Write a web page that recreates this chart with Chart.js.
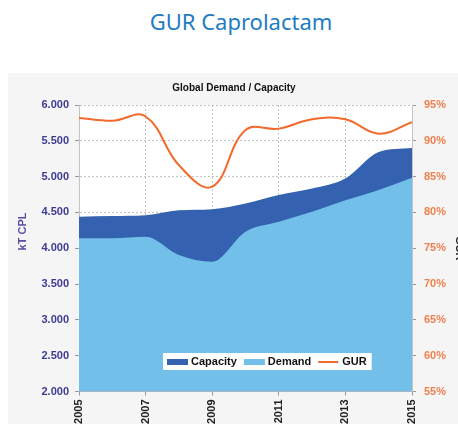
<!DOCTYPE html>
<html>
<head>
<meta charset="utf-8">
<script src="https://cdn.jsdelivr.net/npm/chart.js@4.4.0/dist/chart.umd.min.js"></script>
<style>
  html, body { margin: 0; padding: 0; width: 458px; height: 424px; overflow: hidden; background: #fff; }
  #title { position: absolute; left: 0; top: 6px; width: 482px; text-align: center;
           font-family: "Noto Sans", sans-serif; font-size: 22px; color: #1f7cc2; }
  #panel { position: absolute; left: 8px; top: 73px; width: 460px; height: 360px; background: #f5f5f5; }
  #wrap { position: absolute; left: 0; top: 70px; width: 468px; height: 380px; }
</style>
</head>
<body>
<div id="title">GUR Caprolactam</div>
<div id="panel"></div>
<div id="wrap"><canvas id="chart"></canvas></div>
<script>
const years = [2005, 2006, 2007, 2008, 2009, 2010, 2011, 2012, 2013, 2014, 2015];
const capacity = [4440, 4450, 4460, 4530, 4545, 4625, 4745, 4835, 4975, 5345, 5400];
const demand = [4140, 4140, 4160, 3905, 3810, 4230, 4370, 4510, 4670, 4815, 4985];
const gur = [93.2, 92.8, 93.4, 86.6, 83.6, 91.5, 91.7, 93.0, 93.0, 91.0, 92.6];

const pts = (arr) => years.map((y, i) => ({ x: y, y: arr[i] }));
const tickFont = { family: "Liberation Sans", size: 11, weight: "bold" };

// white plot background
const plotBg = {
  id: "plotBg",
  beforeDraw(chart) {
    const a = chart.chartArea, ctx = chart.ctx;
    ctx.save();
    ctx.fillStyle = "#ffffff";
    ctx.fillRect(a.left, a.top, a.right - a.left, a.bottom - a.top);
    ctx.restore();
  }
};

// legend drawn inside the plot, near the bottom
const innerLegend = {
  id: "innerLegend",
  afterDatasetsDraw(chart) {
    const a = chart.chartArea, ctx = chart.ctx;
    const order = [2, 1, 0];
    const x0 = a.left + 84, y0 = a.bottom - 38.5;
    ctx.save();
    ctx.font = "bold 11px 'Liberation Sans'";
    let w = 6;
    order.forEach(i => { w += 24 + ctx.measureText(chart.data.datasets[i].label).width + 7; });
    ctx.fillStyle = "#ffffff";
    ctx.fillRect(x0, y0, w - 4, 17);
    let x = x0 + 4;
    const cy = y0 + 9;
    order.forEach(i => {
      const ds = chart.data.datasets[i];
      if (!ds.fill) {
        ctx.strokeStyle = ds.borderColor;
        ctx.lineWidth = 2;
        ctx.beginPath(); ctx.moveTo(x, cy); ctx.lineTo(x + 20, cy); ctx.stroke();
      } else {
        ctx.fillStyle = ds.backgroundColor;
        ctx.fillRect(x, cy - 3, 21, 6);
      }
      ctx.fillStyle = "#111";
      ctx.textBaseline = "middle";
      ctx.fillText(ds.label, x + 24, cy);
      x += 24 + ctx.measureText(ds.label).width + 7;
    });
    ctx.restore();
  }
};

new Chart(document.getElementById("chart"), {
  type: "line",
  data: {
    datasets: [
      {
        label: "GUR", data: pts(gur), yAxisID: "y2",
        borderColor: "#f26a2c", borderWidth: 2, fill: false, order: 0,
        pointRadius: 0, tension: 0.4
      },
      {
        label: "Demand", data: pts(demand), yAxisID: "y",
        backgroundColor: "#72bfe9", borderWidth: 0, fill: "origin", order: 1,
        pointRadius: 0, cubicInterpolationMode: "monotone"
      },
      {
        label: "Capacity", data: pts(capacity), yAxisID: "y",
        backgroundColor: "#3462b0", borderWidth: 0, fill: "origin", order: 2,
        pointRadius: 0, cubicInterpolationMode: "monotone"
      }
    ]
  },
  options: {
    responsive: true,
    maintainAspectRatio: false,
    animation: false,
    layout: { padding: 0 },
    plugins: {
      legend: { display: false },
      tooltip: { enabled: false },
      title: {
        display: true, text: "Global Demand / Capacity", color: "#111",
        font: { family: "Liberation Sans", size: 10, weight: "bold" },
        padding: { top: 12, bottom: 11 }
      }
    },
    scales: {
      x: {
        type: "linear", min: 2005, max: 2015,
        ticks: {
          stepSize: 2, color: "#222", font: tickFont, padding: 4,
          minRotation: 90, maxRotation: 90,
          callback: (v) => String(v)
        },
        grid: { color: "#c4c4c4", tickLength: 4, tickBorderDash: [], tickColor: "#999" },
        border: { color: "#c4c4c4", dash: [2, 2] },
        afterFit: (s) => { s.height = 380 - 321.5; }
      },
      y: {
        position: "left", min: 2000, max: 6000,
        ticks: { stepSize: 500, color: "#3c3a96", font: tickFont, padding: 6,
                 callback: (v) => (v / 1000).toFixed(3) },
        grid: { color: "#c4c4c4", tickLength: 4, tickBorderDash: [], tickColor: "#999" },
        border: { color: "#c4c4c4", dash: [2, 2] },
        title: { display: true, text: "           kT CPL", color: "#5a4aa3",
                 font: { family: "Liberation Sans", size: 11, weight: "bold" },
                 padding: { top: 16, bottom: 4 } },
        afterFit: (s) => { s.width = 79; }
      },
      y2: {
        position: "right", min: 55, max: 95,
        ticks: { stepSize: 5, color: "#f0804e", font: tickFont, padding: 8,
                 callback: (v) => v + "%" },
        grid: { drawOnChartArea: false, tickLength: 4, tickColor: "#999" },
        border: { color: "#c4c4c4", dash: [2, 2] },
        title: { display: true, text: "GUR", color: "#222",
                 font: { family: "Liberation Sans", size: 11, weight: "bold" },
                 padding: { top: 2, bottom: 0 } },
        afterFit: (s) => { s.width = 468 - 412; }
      }
    }
  },
  plugins: [plotBg, innerLegend]
});
</script>
</body>
</html>
